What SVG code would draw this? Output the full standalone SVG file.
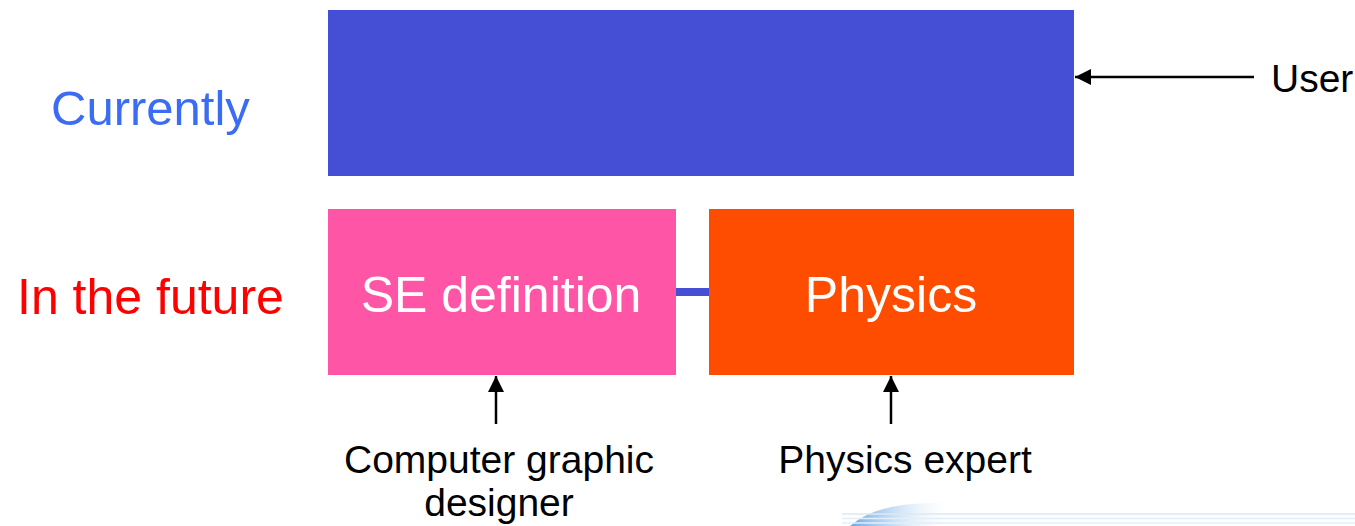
<svg xmlns="http://www.w3.org/2000/svg" width="1355" height="526" viewBox="0 0 1355 526">
<defs>
<style>
.t{font-family:"Liberation Sans",Arial,sans-serif}
.lbl{font-size:39px;fill:#000}
.box{font-size:50px;fill:#fff;text-anchor:middle}
.arr{stroke:#000;stroke-width:2.5;fill:none}
</style>
<marker id="ah2" viewBox="0 0 16 16" refX="16" refY="8" markerWidth="16" markerHeight="16" markerUnits="userSpaceOnUse" orient="auto">
<path d="M0,0 L16,8 L0,16 z" fill="#000"/>
</marker>
<linearGradient id="sw" x1="0" y1="0" x2="1" y2="0">
<stop offset="0" stop-color="#5a9fe0" stop-opacity="0.9"/>
<stop offset="1" stop-color="#cfe3f6" stop-opacity="0"/>
</linearGradient>
</defs>
<rect width="1355" height="526" fill="#fff"/>
<g id="deco">
<path d="M850,526 Q875,503 935,503 L945,503 L945,526 z" fill="url(#sw)"/>
<line x1="842" y1="514" x2="1355" y2="514" stroke="#dce9f5" stroke-width="1.5"/>
<line x1="842" y1="518.5" x2="1355" y2="518.5" stroke="#e3eef8" stroke-width="1.5"/>
<line x1="842" y1="523" x2="1355" y2="523" stroke="#e3eef8" stroke-width="1.5"/>
</g>
<g id="label-currently"><text class="t" x="51" y="125" font-size="49" fill="#3B6CF4">Currently</text></g>
<g id="label-future"><text class="t" x="17" y="314" font-size="50" fill="#FF0000">In the future</text></g>
<g id="node-current"><rect x="328" y="10" width="746" height="166" fill="#444FD6"/></g>
<g id="node-se"><rect x="328" y="209" width="348" height="166" fill="#FF55A6"/><text class="t box" x="501" y="312">SE definition</text></g>
<g id="node-physics"><rect x="709" y="209" width="365" height="166" fill="#FF4D00"/><text class="t box" x="891" y="312">Physics</text></g>
<g id="connectors">
<rect x="676" y="288" width="33" height="8" fill="#444FD6"/>
<line class="arr" x1="1254" y1="77" x2="1075" y2="77" marker-end="url(#ah2)"/>
<line class="arr" x1="496" y1="424" x2="496" y2="376" marker-end="url(#ah2)"/>
<line class="arr" x1="891" y1="424" x2="891" y2="376" marker-end="url(#ah2)"/>
</g>
<g id="label-user"><text class="t lbl" x="1271" y="92">User</text></g>
<g id="label-cgd"><text class="t lbl" x="499" y="473" text-anchor="middle">Computer graphic</text><text class="t lbl" x="499" y="516" text-anchor="middle">designer</text></g>
<g id="label-pe"><text class="t lbl" x="905" y="473" text-anchor="middle">Physics expert</text></g>
</svg>
